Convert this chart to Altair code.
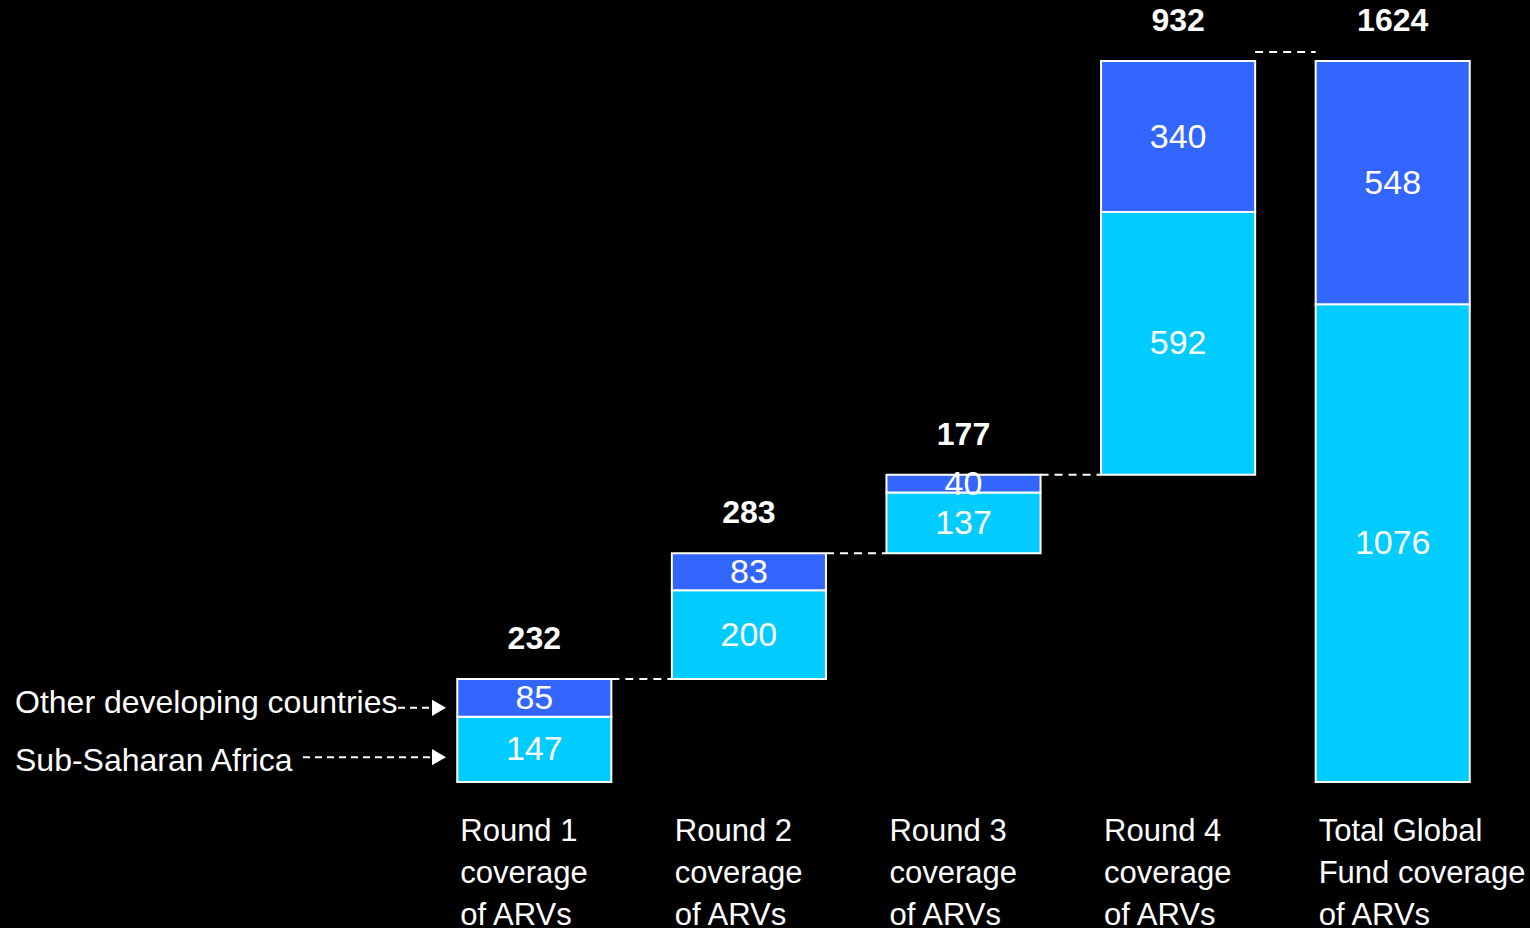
import altair as alt
import pandas as pd

categories = ["Round 1", "Round 2", "Round 3", "Round 4", "Total"]
axis_labels = [
    "Round 1\ncoverage\nof ARVs",
    "Round 2\ncoverage\nof ARVs",
    "Round 3\ncoverage\nof ARVs",
    "Round 4\ncoverage\nof ARVs",
    "Total Global\nFund coverage\nof ARVs",
]
ssa = [147, 200, 137, 592, 1076]
other = [85, 83, 40, 340, 548]
totals = [232, 283, 177, 932, 1624]
series_names = ["Sub-Saharan Africa", "Other developing countries"]

HALF = 0.359  # half bar width in category steps

bases = []
run = 0
for i, c in enumerate(categories):
    if c == "Total":
        bases.append(0)
    else:
        bases.append(run)
        run += totals[i]

seg_rows = []
for i, c in enumerate(categories):
    b = bases[i]
    seg_rows.append(dict(cat=c, idx=i, series=series_names[0], y0=b, y1=b + ssa[i],
                         mid=b + ssa[i] / 2, value=ssa[i]))
    seg_rows.append(dict(cat=c, idx=i, series=series_names[1], y0=b + ssa[i], y1=b + ssa[i] + other[i],
                         mid=b + ssa[i] + other[i] / 2, value=other[i]))
seg = pd.DataFrame(seg_rows)

tot = pd.DataFrame(dict(cat=categories, idx=list(range(5)),
                        top=[bases[i] + totals[i] for i in range(5)], total=totals))
lab = pd.DataFrame(dict(cat=categories, idx=list(range(5)), label=axis_labels))

conn = pd.DataFrame(dict(
    frm=list(range(4)),
    nxt=list(range(1, 5)),
    level=[bases[i] + totals[i] for i in range(4)],
))

W, H = 1073, 772
xscale = alt.Scale(domain=[-0.5, 4.5], nice=False, zero=False)
yscale = alt.Scale(domain=[0, 1739], nice=False, zero=True)
colors = alt.Scale(domain=series_names, range=["#00CCFF", "#3366FF"])
SANS = "Liberation Sans"

bars = alt.Chart(seg).transform_calculate(
    xl=f"datum.idx - {HALF}", xr=f"datum.idx + {HALF}"
).mark_bar(stroke="white", strokeWidth=2).encode(
    x=alt.X("xl:Q", scale=xscale,
            axis=alt.Axis(labels=False, ticks=False, title=None, domainColor="white",
                          domainWidth=4, domainCap="round", grid=False)),
    x2="xr:Q",
    y=alt.Y("y0:Q", scale=yscale, axis=None),
    y2="y1:Q",
    color=alt.Color("series:N", scale=colors, legend=None),
)

inner = alt.Chart(seg).mark_text(
    color="white", fontSize=34, font=SANS,
    baseline="middle", align="center", dy=1,
).encode(
    x=alt.X("idx:Q", scale=xscale, axis=None),
    y=alt.Y("mid:Q", scale=yscale, axis=None),
    text="value:Q",
)

tot_text = alt.Chart(tot).mark_text(
    color="white", fontSize=32, fontWeight="bold", font=SANS,
    baseline="middle", align="center", dy=-40,
).encode(
    x=alt.X("idx:Q", scale=xscale, axis=None),
    y=alt.Y("top:Q", scale=yscale, axis=None),
    text="total:Q",
)

conn_base = alt.Chart(conn).transform_calculate(
    xa=f"datum.frm + {HALF}", xb=f"datum.nxt - {HALF}"
)
conn_main = conn_base.transform_filter("datum.nxt < 4").mark_rule(
    color="white", strokeWidth=2, strokeDash=[8, 6],
).encode(
    x=alt.X("xa:Q", scale=xscale, axis=None),
    x2="xb:Q",
    y=alt.Y("level:Q", scale=yscale, axis=None),
)
conn_last = conn_base.transform_filter("datum.nxt == 4").mark_rule(
    color="white", strokeWidth=2, strokeDash=[8, 6], yOffset=-9,
).encode(
    x=alt.X("xa:Q", scale=xscale, axis=None),
    x2="xb:Q",
    y=alt.Y("level:Q", scale=yscale, axis=None),
)

lab_text = alt.Chart(lab).transform_calculate(xl=f"datum.idx - {HALF}").mark_text(
    color="white", fontSize=31, font=SANS,
    align="left", baseline="alphabetic", lineBreak="\n", lineHeight=42, dx=3, dy=59,
).encode(
    x=alt.X("xl:Q", scale=xscale, axis=None),
    y=alt.value(H),
    text="label:N",
)

ann = pd.DataFrame(dict(
    text=["Other developing countries", "Sub-Saharan Africa"],
    ty=[178, 47],
    ay=[167, 56],
))
ann_text = alt.Chart(ann).mark_text(
    color="white", fontSize=32, font=SANS,
    align="left", baseline="middle",
).encode(
    x=alt.value(-412),
    y=alt.Y("ty:Q", scale=yscale, axis=None),
    text="text:N",
)
arrow_other = alt.Chart(ann).transform_filter(
    "datum.text == 'Other developing countries'"
).mark_rule(color="white", strokeWidth=2, strokeDash=[7, 5]).encode(
    x=alt.datum(-0.635), x2=alt.datum(-0.477),
    y=alt.Y("ay:Q", scale=yscale, axis=None),
)
arrow_ssa = alt.Chart(ann).transform_filter(
    "datum.text == 'Sub-Saharan Africa'"
).mark_rule(color="white", strokeWidth=2, strokeDash=[7, 5]).encode(
    x=alt.datum(-1.078), x2=alt.datum(-0.477),
    y=alt.Y("ay:Q", scale=yscale, axis=None),
)
heads = alt.Chart(ann).mark_point(
    shape="triangle-right", filled=True, color="white", size=260, opacity=1,
).encode(x=alt.value(12), y=alt.Y("ay:Q", scale=yscale, axis=None))

chart = alt.layer(
    conn_main, conn_last, bars, inner, tot_text, lab_text, ann_text,
    arrow_other, arrow_ssa, heads,
).properties(
    width=W, height=H,
    autosize=alt.AutoSizeParams(type="none"),
    padding={"left": 427, "top": 10, "right": 30, "bottom": 146},
    background="black",
).configure_view(strokeWidth=0)

chart.save("out.html", embed_options={"renderer": "svg", "actions": False})
